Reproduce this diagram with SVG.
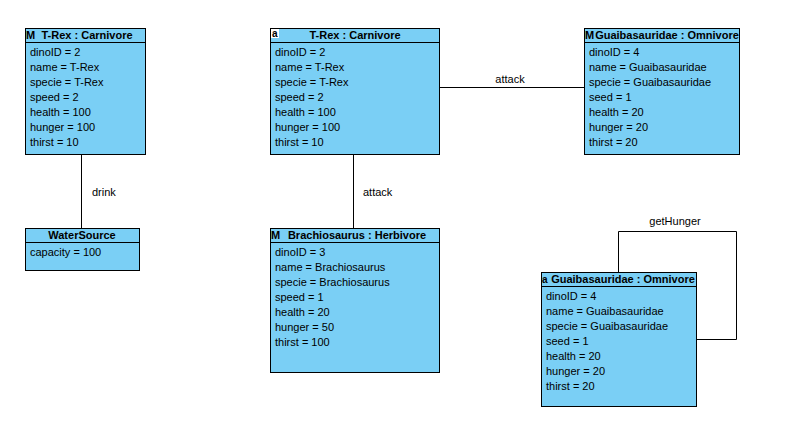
<svg xmlns="http://www.w3.org/2000/svg" width="811" height="423" viewBox="0 0 811 423">
<style>
.box{fill:#7ACFF5;stroke:#000;stroke-width:1}
.sep{stroke:#000;stroke-width:1}
.hd{font-family:"Liberation Sans",Arial,sans-serif;font-size:11px;font-weight:bold;fill:#000;text-anchor:middle}
.tx{font-family:"Liberation Sans",Arial,sans-serif;font-size:11px;fill:#000}
.ic{font-family:"Liberation Sans",Arial,sans-serif;font-size:11px;font-weight:bold;fill:#000}
.ia{font-family:"Liberation Sans",Arial,sans-serif;font-size:10px;font-weight:bold;fill:#000}
.ln{fill:none;stroke:#000;stroke-width:1}
.lb{font-family:"Liberation Sans",Arial,sans-serif;font-size:11px;fill:#000}
</style>
<rect width="811" height="423" fill="#fff"/>
<g id="connectors">
<line class="ln" x1="81.5" y1="155" x2="81.5" y2="228"/>
<text class="lb" x="92" y="196">drink</text>
<line class="ln" x1="439" y1="87.5" x2="584" y2="87.5"/>
<text class="lb" x="510" y="83" text-anchor="middle">attack</text>
<line class="ln" x1="353.5" y1="155" x2="353.5" y2="228"/>
<text class="lb" x="363" y="196">attack</text>
<polyline class="ln" points="618.5,272 618.5,231.5 736.5,231.5 736.5,339.5 697,339.5"/>
<text class="lb" x="675" y="225" text-anchor="middle">getHunger</text>
</g>
<g id="trex1">
<rect class="box" x="25.5" y="28.5" width="120" height="126"/>
<line class="sep" x1="25.5" y1="42.5" x2="145.5" y2="42.5"/>
<text class="ic" x="26" y="39">M</text>
<text class="hd" x="87" y="39">T-Rex : Carnivore</text>
<text class="tx" x="30" y="56">dinoID = 2</text>
<text class="tx" x="30" y="71">name = T-Rex</text>
<text class="tx" x="30" y="86">specie = T-Rex</text>
<text class="tx" x="30" y="101">speed = 2</text>
<text class="tx" x="30" y="116">health = 100</text>
<text class="tx" x="30" y="131">hunger = 100</text>
<text class="tx" x="30" y="146">thirst = 10</text>
</g>
<g id="trex2">
<rect class="box" x="270.5" y="28.5" width="169" height="126"/>
<line class="sep" x1="270.5" y1="42.5" x2="439.5" y2="42.5"/>
<rect x="271" y="29" width="8" height="9" fill="#fff"/>
<text class="ia" x="272" y="37">a</text>
<text class="hd" x="355" y="39">T-Rex : Carnivore</text>
<text class="tx" x="275" y="56">dinoID = 2</text>
<text class="tx" x="275" y="71">name = T-Rex</text>
<text class="tx" x="275" y="86">specie = T-Rex</text>
<text class="tx" x="275" y="101">speed = 2</text>
<text class="tx" x="275" y="116">health = 100</text>
<text class="tx" x="275" y="131">hunger = 100</text>
<text class="tx" x="275" y="146">thirst = 10</text>
</g>
<g id="guaib1">
<rect class="box" x="584.5" y="28.5" width="155" height="126"/>
<line class="sep" x1="584.5" y1="42.5" x2="739.5" y2="42.5"/>
<text class="ic" x="585" y="39">M</text>
<text class="hd" x="667" y="39">Guaibasauridae : Omnivore</text>
<text class="tx" x="589" y="56">dinoID = 4</text>
<text class="tx" x="589" y="71">name = Guaibasauridae</text>
<text class="tx" x="589" y="86">specie = Guaibasauridae</text>
<text class="tx" x="589" y="101">seed = 1</text>
<text class="tx" x="589" y="116">health = 20</text>
<text class="tx" x="589" y="131">hunger = 20</text>
<text class="tx" x="589" y="146">thirst = 20</text>
</g>
<g id="water">
<rect class="box" x="25.5" y="228.5" width="114" height="42"/>
<line class="sep" x1="25.5" y1="242.5" x2="139.5" y2="242.5"/>
<text class="hd" x="82" y="239">WaterSource</text>
<text class="tx" x="30" y="256">capacity = 100</text>
</g>
<g id="brachio">
<rect class="box" x="270.5" y="228.5" width="169" height="144"/>
<line class="sep" x1="270.5" y1="242.5" x2="439.5" y2="242.5"/>
<text class="ic" x="271" y="239">M</text>
<text class="hd" x="357" y="239">Brachiosaurus : Herbivore</text>
<text class="tx" x="275" y="256">dinoID = 3</text>
<text class="tx" x="275" y="271">name = Brachiosaurus</text>
<text class="tx" x="275" y="286">specie = Brachiosaurus</text>
<text class="tx" x="275" y="301">speed = 1</text>
<text class="tx" x="275" y="316">health = 20</text>
<text class="tx" x="275" y="331">hunger = 50</text>
<text class="tx" x="275" y="346">thirst = 100</text>
</g>
<g id="guaib2">
<rect class="box" x="541.5" y="272.5" width="155" height="134"/>
<line class="sep" x1="541.5" y1="286.5" x2="696.5" y2="286.5"/>
<text class="ia" x="542" y="283">a</text>
<text class="hd" x="623" y="283">Guaibasauridae : Omnivore</text>
<text class="tx" x="546" y="300">dinoID = 4</text>
<text class="tx" x="546" y="315">name = Guaibasauridae</text>
<text class="tx" x="546" y="330">specie = Guaibasauridae</text>
<text class="tx" x="546" y="345">seed = 1</text>
<text class="tx" x="546" y="360">health = 20</text>
<text class="tx" x="546" y="375">hunger = 20</text>
<text class="tx" x="546" y="390">thirst = 20</text>
</g>
</svg>
